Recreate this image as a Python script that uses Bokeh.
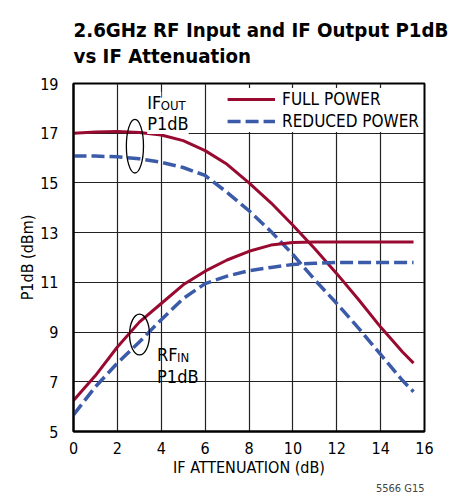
from bokeh.plotting import figure
from bokeh.models import Title, Label, Legend, LegendItem, Range1d
from bokeh.embed import file_html
from bokeh.resources import INLINE

FONT = "'Liberation Sans Narrow', 'DejaVu Sans Condensed', 'Arial Narrow', sans-serif"

# ---- data ----
atten = [0, 1, 2, 3, 4, 5, 6, 7, 8, 9, 10, 11, 12, 13, 14, 15, 15.5]
ifout_full = [17.0, 17.05, 17.07, 17.03, 16.93, 16.7, 16.3, 15.75, 15.0, 14.2, 13.3, 12.35, 11.35, 10.3, 9.2, 8.2, 7.75]
ifout_reduced = [16.08, 16.08, 16.05, 15.97, 15.83, 15.62, 15.3, 14.62, 13.88, 13.05, 12.12, 11.1, 10.15, 9.15, 8.1, 7.05, 6.6]
rfin_full = [6.25, 7.25, 8.4, 9.4, 10.15, 10.9, 11.45, 11.9, 12.25, 12.5, 12.6, 12.62, 12.62, 12.62, 12.62, 12.62, 12.62]
rfin_reduced = [5.67, 6.8, 7.75, 8.6, 9.5, 10.35, 10.95, 11.25, 11.47, 11.6, 11.72, 11.77, 11.8, 11.8, 11.8, 11.8, 11.8]

x_ticks = [0, 2, 4, 6, 8, 10, 12, 14, 16]
y_ticks = [5, 7, 9, 11, 13, 15, 17, 19]

series_labels = ["FULL POWER", "REDUCED POWER"]
title_text = "2.6GHz RF Input and IF Output P1dB\nvs IF Attenuation"
x_label = "IF ATTENUATION (dB)"
y_label = "P1dB (dBm)"
footnote = "5566 G15"

# callout ellipses (center x, center y, width, height in data units)
ell_x = [2.8, 3.01]
ell_y = [16.48, 8.9]
ell_w = [0.78, 0.91]
ell_h = [2.16, 1.64]

RED = "#990a30"
BLUE = "#3b5ba9"

p = figure(width=456, height=497, x_range=Range1d(0, 16), y_range=Range1d(5, 19),
           output_backend="svg", toolbar_location=None,
           min_border_left=73, min_border_right=32, min_border_top=80, min_border_bottom=66)

p.title.text = title_text
p.title.text_font = FONT
p.title.text_font_size = "20.3px"
p.title.text_font_style = "bold"
p.title.text_line_height = 1.12
p.title.align = "left"
p.title.standoff = 30
p.title.text_color = "black"

# grid
for g in (p.xgrid, p.ygrid):
    g.grid_line_color = "#222222"
    g.grid_line_width = 1.2
p.xgrid.ticker = x_ticks
p.ygrid.ticker = y_ticks

p.outline_line_color = "black"
p.outline_line_width = 2

for ax in (p.xaxis, p.yaxis):
    ax.axis_line_width = 2
    ax.axis_line_color = "black"
    ax.major_tick_line_color = None
    ax.minor_tick_line_color = None
    ax.major_label_text_font = FONT
    ax.major_label_text_font_size = "16px"
    ax.major_label_text_color = "black"
    ax.axis_label_text_font = FONT
    ax.axis_label_text_font_size = "16px"
    ax.axis_label_text_font_style = "normal"
    ax.axis_label_text_color = "black"
p.xaxis.ticker = x_ticks
p.yaxis.ticker = y_ticks
p.xaxis.axis_label = x_label
p.yaxis.axis_label = y_label
p.xaxis.major_label_standoff = 4
p.yaxis.major_label_standoff = 9
p.xaxis.axis_label_standoff = 1
p.yaxis.axis_label_standoff = 0

r1 = p.line(atten, ifout_full, line_color=RED, line_width=3)
r2 = p.line(atten, ifout_reduced, line_color=BLUE, line_width=3.5, line_dash="13 5")
p.line(atten, rfin_full, line_color=RED, line_width=3)
p.line(atten, rfin_reduced, line_color=BLUE, line_width=3.5, line_dash="13 5")

p.ellipse(x=ell_x, y=ell_y, width=ell_w, height=ell_h, fill_color=None,
          line_color="black", line_width=1.3)

def lab(x, y, t, size, bg=True):
    l = Label(x=x, y=y, text=t, text_font=FONT, text_font_size=size,
              text_color="black", text_baseline="alphabetic")
    if bg:
        l.background_fill_color = "white"
        l.background_fill_alpha = 1.0
    p.add_layout(l)

lab(3.36, 18.25, "IF", "18px")
lab(3.98, 18.12, "OUT", "13px")
lab(3.36, 17.39, "P1dB", "18px")
lab(3.81, 8.08, "RF", "18px", bg=False)
lab(4.72, 7.97, "IN", "13px", bg=False)
lab(3.81, 7.2, "P1dB", "18px", bg=False)

legend = Legend(items=[LegendItem(label=series_labels[0], renderers=[r1]),
                       LegendItem(label=series_labels[1], renderers=[r2])],
                location="top_right")
legend.border_line_color = None
legend.background_fill_color = "white"
legend.background_fill_alpha = 1.0
legend.margin = 5
legend.padding = 14
legend.spacing = 0
legend.label_height = 22
legend.glyph_height = 22
legend.glyph_width = 48
legend.label_standoff = 7
legend.label_text_font = FONT
legend.label_text_font_size = "17px"
legend.label_text_color = "black"
p.add_layout(legend)

p.add_layout(Title(text=footnote, align="right", text_font=FONT, text_font_size="11px",
                   text_font_style="normal", standoff=0), "below")

open("out.html", "w").write(file_html(p, INLINE))
